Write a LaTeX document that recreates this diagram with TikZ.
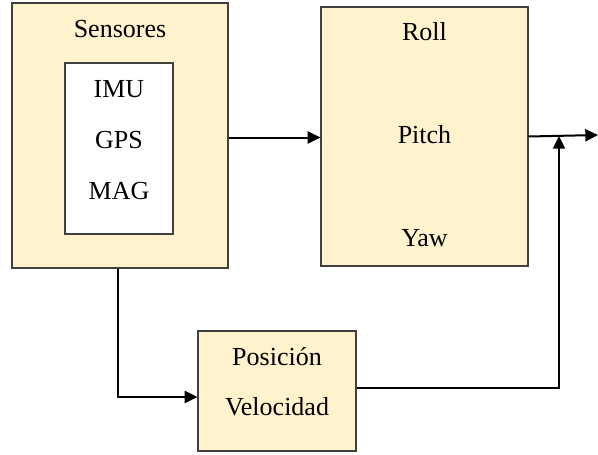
\documentclass[tikz,border=0pt]{standalone}
\usepackage{fontspec}
\setmainfont{Liberation Serif}
\usetikzlibrary{arrows.meta, positioning, calc}
\definecolor{boxfill}{RGB}{255,242,204}
\definecolor{boxline}{RGB}{64,64,64}

\begin{document}
\begin{tikzpicture}[x=0.75pt, y=-0.75pt,
   every node/.style={font=\fontsize{19.5}{23}\selectfont},
   block/.style={draw=boxline, line width=0.9pt, fill=boxfill, inner sep=0pt},
   inner/.style={draw=boxline, line width=0.9pt, fill=white, inner sep=0pt},
   conn/.style={line width=1.5pt, -{Triangle[length=9.5pt, width=9pt]}}]
  \useasboundingbox (0,0) rectangle (598,454);

  \node[block, minimum width=162pt, minimum height=198.75pt] (sens) at (120,135.5) {};
  \node (senstxt) at (120,29) {Sensores};
  \node[inner, minimum width=81pt, minimum height=128.25pt] (lista) at (119,148.5) {};
  \node (imu) at (119,89) {IMU};
  \node (gps) at (119,140) {GPS};
  \node (mag) at (119,191) {MAG};

  \node[block, minimum width=155.25pt, minimum height=194.25pt] (rpy) at (424.5,136.5) {};
  \node (roll) at (424.5,32) {Roll};
  \node (pitch) at (424.5,135) {Pitch};
  \node (yaw) at (424.5,238) {Yaw};

  \node[block, minimum width=118.5pt, minimum height=90pt] (posvel) at (277,391) {};
  \node (pos) at (277,357) {Posición};
  \node (vel) at (277,407) {Velocidad};

  \coordinate (out) at (598,135);
  \coordinate (bajada) at (118,397);
  \coordinate (subida) at (559,388);
  \coordinate (junta) at (559,136);

  \draw[conn] ($(sens.east)+(0,2)$) -- ($(rpy.west)+(0,1)$);
  \draw[conn] (rpy.east) -- (out);
  \draw[conn] (sens.south -| bajada) -- (bajada) -- (posvel.west |- bajada);
  \draw[conn] (posvel.east |- subida) -- (subida) -- (junta);
\end{tikzpicture}
\end{document}
